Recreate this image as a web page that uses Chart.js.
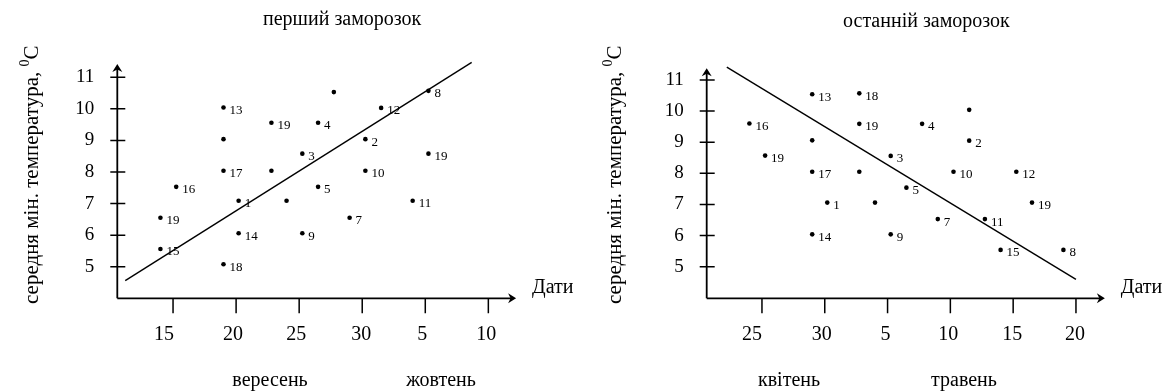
<!DOCTYPE html>
<html>
<head>
<meta charset="utf-8">
<script src="https://cdn.jsdelivr.net/npm/chart.js@4.4.0/dist/chart.umd.min.js"></script>
<style>
  html, body { margin: 0; padding: 0; background: #ffffff; }
  #wrap { position: relative; width: 1168px; height: 392px; overflow: hidden; }
  #wrap canvas { position: absolute; top: 0; }
</style>
</head>
<body>
<div id="wrap">
  <canvas id="firstFrost" width="584" height="392" style="left:0px"></canvas>
  <canvas id="lastFrost" width="584" height="392" style="left:584px"></canvas>
</div>
<script>
// ---- First frost (September / October), day numbers counted from 1 September ----
const firstTickDays   = [15, 20, 25, 30, 35, 40];
const firstTickLabels = ['15', '20', '25', '30', '5', '10'];
const firstDays  = [20.2, 30.25, 25.25, 26.5, 26.5, 29.0, 35.25, 25.25, 30.25, 34.0, 31.5, 19.0, 20.2, 14.0, 15.25, 19.0, 19.0, 22.8, 14.0, 35.25, 19.0, 22.8, 24.0, 27.75];
const firstTemps = [7.09, 9.04, 8.58, 9.56, 7.53, 6.55, 10.57, 6.06, 8.04, 7.09, 10.03, 10.04, 6.06, 5.56, 7.53, 8.04, 5.08, 9.56, 6.55, 8.58, 9.04, 8.04, 7.09, 10.53];
const firstYears = ['1', '2', '3', '4', '5', '7', '8', '9', '10', '11', '12', '13', '14', '15', '16', '17', '18', '19', '19', '19', '', '', '', ''];
const firstTrendDays  = [11.21, 38.68];
const firstTrendTemps = [4.56, 11.47];

// ---- Last frost (April / May), day numbers counted from 1 April ----
const lastTickDays   = [25, 30, 35, 40, 45, 50];
const lastTickLabels = ['25', '30', '5', '10', '15', '20'];
const lastDays  = [30.2, 41.5, 35.25, 37.75, 36.5, 39.0, 49.0, 35.25, 40.25, 42.75, 45.25, 29.0, 29.0, 44.0, 24.0, 29.0, 32.75, 32.75, 25.25, 46.5, 29.0, 32.75, 34.0, 41.5];
const lastTemps = [7.06, 9.05, 8.56, 9.59, 7.54, 6.53, 5.54, 6.04, 8.05, 6.53, 8.05, 10.54, 6.04, 5.54, 9.60, 8.05, 10.57, 9.59, 8.57, 7.06, 9.06, 8.05, 7.06, 10.04];
const lastYears = ['1', '2', '3', '4', '5', '7', '8', '9', '10', '11', '12', '13', '14', '15', '16', '17', '18', '19', '19', '19', '', '', '', ''];
const lastTrendDays  = [22.2, 50.0];
const lastTrendTemps = [11.41, 4.595];

const tempTicks = [5, 6, 7, 8, 9, 10, 11];
const axisTitleY = 'середня мін. температура, ';
const axisTitleX = 'Дати';

const SERIF = '"Liberation Serif", "Times New Roman", serif';

// Draws the hand-style axes with arrows, tick marks and all annotation text.
const frostFrame = {
  id: 'frostFrame',
  afterDatasetsDraw(chart, args, o) {
    const { ctx } = chart;
    const xs = chart.scales.x, ys = chart.scales.y;
    const x0 = xs.getPixelForValue(xs.min);
    const y0 = ys.getPixelForValue(ys.min);
    const yTop = ys.getPixelForValue(o.arrowY);
    const xEnd = xs.getPixelForValue(o.arrowX);
    ctx.save();
    ctx.strokeStyle = '#000';
    ctx.fillStyle = '#000';
    ctx.lineCap = 'butt';

    // axis lines
    ctx.lineWidth = 1.8;
    ctx.beginPath();
    ctx.moveTo(x0, y0);
    ctx.lineTo(x0, yTop + 4);
    ctx.moveTo(x0, y0);
    ctx.lineTo(xEnd - 4, y0);
    ctx.stroke();

    // arrow heads
    ctx.beginPath();
    ctx.moveTo(x0, yTop);
    ctx.lineTo(x0 + 5, yTop + 8);
    ctx.lineTo(x0, yTop + 5.5);
    ctx.lineTo(x0 - 5, yTop + 8);
    ctx.closePath();
    ctx.fill();
    ctx.beginPath();
    ctx.moveTo(xEnd, y0);
    ctx.lineTo(xEnd - 8, y0 - 5);
    ctx.lineTo(xEnd - 5.5, y0);
    ctx.lineTo(xEnd - 8, y0 + 5);
    ctx.closePath();
    ctx.fill();

    // tick marks
    ctx.lineWidth = 1.5;
    ctx.beginPath();
    xs.ticks.forEach(t => {
      const px = xs.getPixelForValue(t.value);
      ctx.moveTo(px, y0);
      ctx.lineTo(px, y0 + 15);
    });
    ys.ticks.forEach(t => {
      const py = ys.getPixelForValue(t.value);
      ctx.moveTo(x0 - 7, py);
      ctx.lineTo(x0 + 8, py);
    });
    ctx.stroke();

    // date labels under the ticks (hand-placed, slightly left of their ticks)
    ctx.font = '20px ' + SERIF;
    ctx.textAlign = 'center';
    ctx.textBaseline = 'middle';
    xs.ticks.forEach((t, i) => {
      const px = xs.getPixelForValue(t.value);
      ctx.fillText(o.tickLabels[i], px + o.labelShift[i], y0 + 36);
    });

    // point labels (year numbers)
    const meta = chart.getDatasetMeta(0);
    ctx.font = '13px ' + SERIF;
    ctx.textAlign = 'left';
    meta.data.forEach((el, i) => {
      const t = o.years[i];
      if (t) ctx.fillText(t, el.x + 6, el.y + 3);
    });

    // chart title
    ctx.font = '20px ' + SERIF;
    ctx.textAlign = 'left';
    ctx.fillText(o.title, o.titleX, o.titleY);

    // x axis name and month names
    ctx.fillText(axisTitleX, xEnd + 16, y0 - 11);
    ctx.textAlign = 'center';
    o.months.forEach(m => ctx.fillText(m.text, m.x, o.monthY));

    // rotated y axis title with superscript degree sign
    ctx.translate(o.yTitleX, o.yTitleBottom);
    ctx.rotate(-Math.PI / 2);
    ctx.textAlign = 'left';
    ctx.textBaseline = 'alphabetic';
    ctx.font = '21px ' + SERIF;
    ctx.fillText(axisTitleY, 0, 0);
    let w = ctx.measureText(axisTitleY).width;
    ctx.font = '14px ' + SERIF;
    ctx.fillText('0', w, -9);
    w += ctx.measureText('0').width;
    ctx.font = '21px ' + SERIF;
    ctx.fillText('C', w, 0);
    ctx.restore();
  }
};

function buildChart(canvasId, g) {
  const ctx = document.getElementById(canvasId).getContext('2d');
  return new Chart(ctx, {
    type: 'scatter',
    data: {
      datasets: [
        {
          data: g.days.map((d, i) => ({ x: d, y: g.temps[i] })),
          pointRadius: 2.3,
          pointBackgroundColor: '#000',
          pointBorderWidth: 0,
          showLine: false
        },
        {
          data: g.trendDays.map((d, i) => ({ x: d, y: g.trendTemps[i] })),
          showLine: true,
          borderColor: '#000',
          borderWidth: 1.4,
          pointRadius: 0
        }
      ]
    },
    options: {
      responsive: false,
      animation: false,
      devicePixelRatio: 1,
      events: [],
      layout: { padding: { left: 0, top: g.top, right: g.right, bottom: 0 } },
      scales: {
        x: {
          type: 'linear',
          min: g.xMin,
          max: g.xMax,
          afterBuildTicks: s => { s.ticks = g.tickDays.map(v => ({ value: v })); },
          afterFit: s => { s.height = g.xHeight; },
          grid: { display: false, drawTicks: false },
          border: { display: false },
          ticks: { display: false }
        },
        y: {
          type: 'linear',
          min: g.yMin,
          max: 11.6,
          afterBuildTicks: s => { s.ticks = tempTicks.map(v => ({ value: v })); },
          afterFit: s => { s.width = g.yWidth; },
          grid: { display: false, drawTicks: false },
          border: { display: false },
          ticks: {
            padding: 23,
            color: '#000',
            font: { family: SERIF, size: 19 },
            callback: v => String(v)
          }
        }
      },
      plugins: {
        legend: { display: false },
        tooltip: { enabled: false },
        frostFrame: g.frame
      }
    },
    plugins: [frostFrame]
  });
}

buildChart('firstFrost', {
  days: firstDays, temps: firstTemps,
  trendDays: firstTrendDays, trendTemps: firstTrendTemps,
  tickDays: firstTickDays,
  xMin: 10.58, xMax: 42.51, yMin: 4,
  top: 58.3, right: 64, yWidth: 117.3, xHeight: 93.7,
  frame: {
    years: firstYears,
    tickLabels: firstTickLabels,
    labelShift: [-9, -3, -3, -1, -3, -2],
    arrowX: 42.2, arrowY: 11.42,
    title: 'перший заморозок', titleX: 263, titleY: 20,
    months: [{ text: 'вересень', x: 270 }, { text: 'жовтень', x: 441 }],
    monthY: 381,
    yTitleX: 38, yTitleBottom: 304
  }
});

buildChart('lastFrost', {
  days: lastDays, temps: lastTemps,
  trendDays: lastTrendDays, trendTemps: lastTrendTemps,
  tickDays: lastTickDays,
  xMin: 20.6, xMax: 52.71, yMin: 3.985,
  top: 61.3, right: 58, yWidth: 122.7, xHeight: 93.7,
  frame: {
    years: lastYears,
    tickLabels: lastTickLabels,
    labelShift: [-10, -3, -2, -2, -1, -1],
    arrowX: 52.3, arrowY: 11.38,
    title: 'останній заморозок', titleX: 259, titleY: 22,
    months: [{ text: 'квітень', x: 205 }, { text: 'травень', x: 380 }],
    monthY: 381,
    yTitleX: 37, yTitleBottom: 304
  }
});
</script>
</body>
</html>
